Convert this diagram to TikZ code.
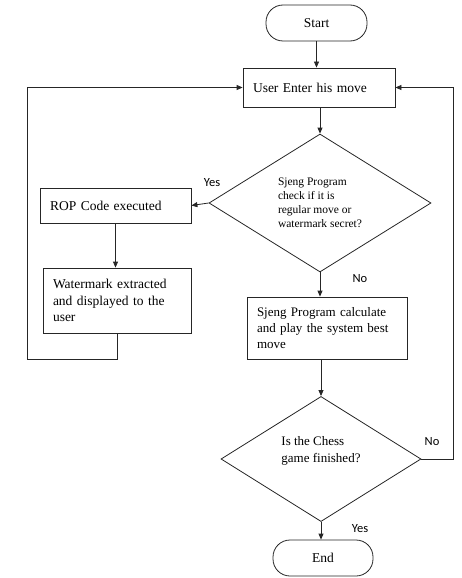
\documentclass[tikz,border=0pt]{standalone}
\usepackage{fontspec}
\setmainfont{Liberation Serif}
\newfontfamily\lblfont{Carlito}
\usetikzlibrary{shapes.geometric, arrows.meta}

\begin{document}
\begin{tikzpicture}[
    x=1pt, y=-1pt,
    every node/.style={font=\fontsize{13.5}{16.5}\selectfont},
    term/.style={rectangle, draw, rounded corners=17pt, minimum width=#1, minimum height=36pt, inner sep=0pt},
    term/.default=100pt,
    proc/.style={rectangle, draw, align=left, inner xsep=10pt, text width=#1},
    dec/.style={diamond, draw, align=left, inner sep=0pt},
    lbl/.style={font=\lblfont\fontsize{12.5}{14}\selectfont},
    arr/.style={-{Triangle[length=6pt, width=5pt]}},
    line width=0.8pt, draw=black!85,
]
    \useasboundingbox (0,0) rectangle (461,578);

    \node[term=101pt] (start) at (316.5, 23) {Start};

    \node[proc=132pt, minimum height=39pt] (user) at (319, 87.5) {User Enter his move};

    \node[dec, minimum width=222pt, minimum height=138pt, font=\fontsize{11.5}{14}\selectfont] (chk) at (320, 203)
        {Sjeng Program\\ check if it is\\ regular move or\\ watermark secret?};

    \node[proc=131pt, minimum height=35pt] (rop) at (115.5, 205.5) {ROP Code executed};

    \node[proc=128pt, minimum height=65pt] (wmk) at (117, 300.5)
        {Watermark extracted\\ and displayed to the\\ user};

    \node[proc=140pt, minimum height=62pt, font=\fontsize{13}{16}\selectfont] (calc) at (327, 328)
        {Sjeng Program calculate\\ and play the system best\\ move};

    \node[dec, minimum width=200pt, minimum height=118pt, font=\fontsize{13}{17}\selectfont, text depth=20pt] (fin) at (321, 459)
        {Is the Chess\\ game finished?};

    \node[term=100pt] (end) at (323, 558) {End};

    \node[lbl] (yes1) at (212, 183) {Yes};
    \node[lbl] (no1)  at (360, 279) {No};
    \node[lbl] (no2)  at (432, 442) {No};
    \node[lbl] (yes2) at (360, 529) {Yes};

    \coordinate (lback) at (27, 359);
    \coordinate (rback) at (453, 459);

    \draw[arr] (start.south) -- (start.south |- user.north);
    \draw[arr] (chk.north |- user.south) -- (chk.north);
    \draw[arr] (chk.west) -- (rop.east);
    \draw[arr] (rop.south) -- (rop.south |- wmk.north);
    \draw[arr] (wmk.south) |- (lback) |- (user.west);
    \draw[arr] (chk.south) -- (chk.south |- calc.north);
    \draw[arr] (fin.north |- calc.south) -- (fin.north);
    \draw[arr] (fin.east) -- (rback) |- (user.east);
    \draw[arr] (fin.south) -- (fin.south |- end.north);
\end{tikzpicture}
\end{document}
